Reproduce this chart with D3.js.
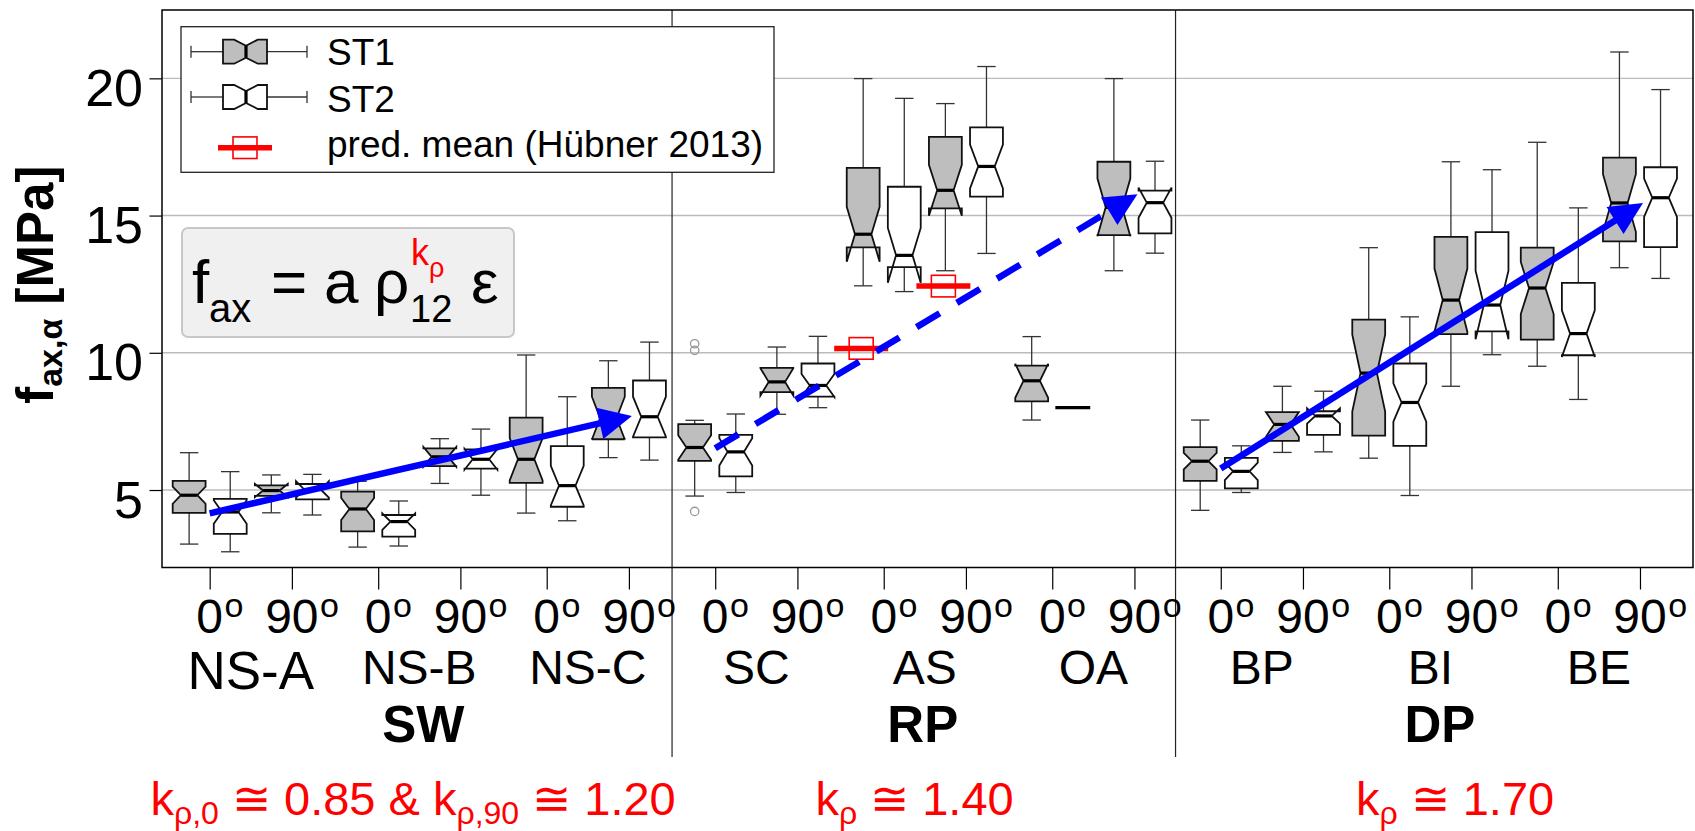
<!DOCTYPE html>
<html>
<head>
<meta charset="utf-8">
<script src="https://d3js.org/d3.v7.min.js"></script>
<style>
    body { margin: 0; background: #fff; }
    svg text { font-family: "Liberation Sans", Arial, Helvetica, sans-serif; fill: #000; }
    .grid line { stroke: #bbb; stroke-width: 1.4px; }
    .whisker { stroke: #333; stroke-width: 1.3px; }
    .box { stroke: #111; stroke-width: 1.8px; }
    .median { stroke: #000; stroke-width: 3.2px; }
    .divider { stroke: #222; stroke-width: 1.2px; }
    .axis path { display: none; }
    .axis line { stroke: #000; stroke-width: 1.2px; }
</style>
</head>
<body>
<svg width="1695" height="831"></svg>
<script>
// ---- data ----
var species = ["NS-A", "NS-B", "NS-C", "SC", "AS", "OA", "BP", "BI", "BE"];
var groups = ["SW", "RP", "DP"];
var angles = ["0", "90"];
var yTicks = [5, 10, 15, 20];

// one row per box, order NS-A 0º, NS-A 90º, NS-B 0º ... BE 90º
// [lower whisker, Q1, median, Q3, upper whisker]
var st1 = [
    [3.03, 4.17, 4.81, 5.33, 6.36],
    [4.17, 4.79, 4.98, 5.17, 5.55],
    [2.92, 3.49, 4.31, 4.94, 5.32],
    [5.24, 5.87, 6.21, 6.52, 6.87],
    [4.16, 5.26, 6.12, 7.64, 9.92],
    [6.18, 6.85, 7.62, 8.72, 9.71],
    [4.78, 6.06, 6.55, 7.40, 7.54],
    [7.76, 8.57, 8.94, 9.45, 10.21],
    [12.44, 13.84, 14.32, 16.74, 19.99],
    [12.99, 15.26, 15.92, 17.87, 19.08],
    [7.55, 8.23, 8.98, 9.53, 10.59],
    [12.99, 14.29, 15.30, 16.96, 19.99],
    [4.26, 5.33, 6.05, 6.56, 7.55],
    [6.37, 6.79, 7.39, 7.84, 8.78],
    [6.16, 6.98, 9.26, 11.21, 13.83],
    [8.78, 10.68, 11.92, 14.22, 16.96],
    [9.51, 10.48, 12.36, 13.83, 17.67],
    [13.10, 14.06, 15.46, 17.11, 20.96]
];
var st2 = [
    [2.75, 3.40, 4.20, 4.68, 5.67],
    [4.09, 4.66, 5.02, 5.22, 5.57],
    [2.96, 3.30, 3.85, 4.09, 4.60],
    [4.81, 5.78, 6.12, 6.48, 7.22],
    [3.88, 4.39, 5.16, 6.60, 8.40],
    [6.09, 6.92, 7.67, 8.99, 10.39],
    [4.91, 5.50, 6.39, 7.01, 7.77],
    [8.00, 8.40, 8.81, 9.61, 10.60],
    [12.23, 13.12, 13.55, 16.05, 19.27],
    [13.62, 15.69, 16.79, 18.21, 20.43],
    [8.00, 8.00, 8.00, 8.00, 8.00],
    [13.63, 14.35, 15.47, 15.91, 16.98],
    [4.91, 5.06, 5.68, 6.17, 6.61],
    [6.39, 7.01, 7.70, 7.87, 8.60],
    [4.80, 6.61, 8.19, 9.61, 11.31],
    [9.93, 10.78, 11.74, 14.40, 16.67],
    [8.30, 9.91, 10.70, 12.55, 15.28],
    [12.71, 13.85, 15.65, 16.76, 19.59]
];
// notch half heights (MPa)
var st1Notch = [0.31, 0.24, 0.40, 0.36, 0.77, 0.78, 0.45, 0.50, 1.00, 0.93, 0.62, 1.05, 0.30, 0.45, 1.40, 1.15, 0.95, 1.05];
var st2Notch = [0.43, 0.30, 0.30, 0.38, 0.72, 0.73, 0.50, 0.42, 1.00, 0.80, 0.00, 0.55, 0.32, 0.28, 0.70, 1.25, 0.85, 0.70];

// outliers: [series, box index, value]
var outliers = [["ST1", 6, 10.33], ["ST1", 6, 10.09], ["ST1", 6, 4.22]];

// predicted means (Hübner 2013), at AS 0º and AS 90º
var predBox = [8, 9];
var predMean = [10.16, 12.43];

// trend arrows per group: start value (first 0º tick), end value (last 90º tick)
var trendStart = [4.15, 6.52, 5.78];
var trendEnd = [7.70, 15.78, 15.46];
var trendDashed = [false, true, false];

// exponent labels below the groups
var kLabels = [
    [["k", 0], ["ρ,0", 1], [" ≅ 0.85 & k", 0], ["ρ,90", 1], [" ≅ 1.20", 0]],
    [["k", 0], ["ρ", 1], [" ≅ 1.40", 0]],
    [["k", 0], ["ρ", 1], [" ≅ 1.70", 0]]
];

// ---- layout ----
var svg = d3.select("svg");
var pL = 162, pR = 1693, pT = 10, pB = 567.5;

// slot units: 4 boxes per species, small gap between species
var x = d3.scaleLinear().domain([-0.66, 36.59]).range([pL, pR]);
var y = d3.scaleLinear().domain([2.177, 22.49]).range([pB, pT]);
var boxW = x(0.8) - x(0);

function boxPos(i, st) { return Math.floor(i / 2) * 4.1 + (i % 2) * 2 + st; }
function tickPos(i) { return boxPos(i, 0) + 0.5; }

var plot = svg.append("g");

// grid
plot.append("g").attr("class", "grid")
    .selectAll("line").data(yTicks).enter().append("line")
    .attr("x1", pL).attr("x2", pR)
    .attr("y1", function(d) { return y(d); })
    .attr("y2", function(d) { return y(d); });

// group dividers
[11.75, 24.0].forEach(function(u) {
    plot.append("line").attr("class", "divider")
        .attr("x1", x(u)).attr("x2", x(u)).attr("y1", pT).attr("y2", 757);
});

// notched box polygon, same folding as R's bxp
function notchPoints(cx, d, n) {
    var xl = cx - boxW / 2, xr = cx + boxW / 2, il = cx - boxW / 4, ir = cx + boxW / 4;
    return [[xl, y(d[1])], [xl, y(d[2] - n)], [il, y(d[2])], [xl, y(d[2] + n)], [xl, y(d[3])],
            [xr, y(d[3])], [xr, y(d[2] + n)], [ir, y(d[2])], [xr, y(d[2] - n)], [xr, y(d[1])]];
}

var series = [
    {name: "ST1", stats: st1, notch: st1Notch, fill: "#bebebe", off: 0},
    {name: "ST2", stats: st2, notch: st2Notch, fill: "#ffffff", off: 1}
];

series.forEach(function(s) {
    s.stats.forEach(function(d, i) {
        var cx = x(boxPos(i, s.off));
        var g = plot.append("g");
        if (d[1] === d[3]) {
            g.append("line").attr("class", "median")
                .attr("x1", cx - boxW / 2 - 1).attr("x2", cx + boxW / 2 + 1)
                .attr("y1", y(d[2])).attr("y2", y(d[2]));
            return;
        }
        // whiskers + staples
        [[d[3], d[4]], [d[1], d[0]]].forEach(function(w) {
            g.append("line").attr("class", "whisker")
                .attr("x1", cx).attr("x2", cx).attr("y1", y(w[0])).attr("y2", y(w[1]));
            g.append("line").attr("class", "whisker")
                .attr("x1", cx - boxW / 4 - 1).attr("x2", cx + boxW / 4 + 1)
                .attr("y1", y(w[1])).attr("y2", y(w[1]));
        });
        g.append("path").attr("class", "box")
            .attr("d", d3.line()(notchPoints(cx, d, s.notch[i])) + "Z")
            .attr("fill", s.fill);
        g.append("line").attr("class", "median")
            .attr("x1", cx - boxW / 4).attr("x2", cx + boxW / 4)
            .attr("y1", y(d[2])).attr("y2", y(d[2]));
    });
});

// outliers
plot.selectAll(".outlier").data(outliers).enter().append("circle")
    .attr("class", "outlier")
    .attr("cx", function(d) { return x(boxPos(d[1], d[0] === "ST1" ? 0 : 1)); })
    .attr("cy", function(d) { return y(d[2]); })
    .attr("r", 4.2)
    .attr("fill", "none").attr("stroke", "#999").attr("stroke-width", 1.3);

// predicted means
function predMark(g, cx, cy) {
    g.append("line").attr("x1", cx - 27).attr("x2", cx + 27).attr("y1", cy).attr("y2", cy)
        .attr("stroke", "#ff0000").attr("stroke-width", 5.5);
    g.append("rect").attr("x", cx - 12).attr("y", cy - 10.8).attr("width", 24).attr("height", 21.6)
        .attr("fill", "none").attr("stroke", "#ff0000").attr("stroke-width", 1.6);
}
predMean.forEach(function(v, k) {
    predMark(plot, x(boxPos(predBox[k], 0)) - 2, y(v));
});

// trend arrows
function arrow(x0, y0, x1, y1, dashed) {
    var dx = x1 - x0, dy = y1 - y0, L = Math.hypot(dx, dy), ux = dx / L, uy = dy / L;
    var hl = 33, hw = 16;
    var bx = x1 - ux * hl, by = y1 - uy * hl;
    plot.append("line")
        .attr("x1", x0).attr("y1", y0).attr("x2", bx + ux * 3).attr("y2", by + uy * 3)
        .attr("stroke", "#0000ff").attr("stroke-width", 6.5)
        .attr("stroke-dasharray", dashed ? "27,20" : null);
    plot.append("path")
        .attr("d", d3.line()([[x1, y1], [bx - uy * hw, by + ux * hw], [bx + uy * hw, by - ux * hw]]) + "Z")
        .attr("fill", "#0000ff");
}
groups.forEach(function(gname, k) {
    arrow(x(tickPos(k * 6)), y(trendStart[k]), x(tickPos(k * 6 + 5)) + 3, y(trendEnd[k]), trendDashed[k]);
});

// legend
var leg = svg.append("g");
leg.append("rect").attr("x", 181).attr("y", 26.7).attr("width", 593).attr("height", 145.6)
    .attr("fill", "#fff").attr("stroke", "#222").attr("stroke-width", 1.3);

function legendBox(cy, fill) {
    leg.append("line").attr("class", "whisker").attr("x1", 191).attr("x2", 223).attr("y1", cy).attr("y2", cy);
    leg.append("line").attr("class", "whisker").attr("x1", 267).attr("x2", 307).attr("y1", cy).attr("y2", cy);
    [191, 307].forEach(function(px) {
        leg.append("line").attr("class", "whisker").attr("x1", px).attr("x2", px).attr("y1", cy - 6).attr("y2", cy + 6);
    });
    var pts = [[223, cy - 12], [234.2, cy - 12], [246, cy - 6], [257.8, cy - 12], [267, cy - 12],
               [267, cy + 12], [257.8, cy + 12], [246, cy + 6], [234.2, cy + 12], [223, cy + 12]];
    leg.append("path").attr("class", "box").attr("d", d3.line()(pts) + "Z").attr("fill", fill);
    leg.append("line").attr("class", "median").attr("x1", 246).attr("x2", 246).attr("y1", cy - 6).attr("y2", cy + 6);
}
legendBox(51.7, series[0].fill);
legendBox(97, series[1].fill);
predMark(leg, 245, 147.7);

var legText = [["ST1", 65], ["ST2", 111.7], ["pred. mean (Hübner 2013)", 157]];
legText.forEach(function(t) {
    leg.append("text").attr("x", 327).attr("y", t[1]).attr("font-size", 37).text(t[0]);
});

// formula box
var fb = svg.append("g");
fb.append("rect").attr("x", 182).attr("y", 228).attr("width", 332).attr("height", 109).attr("rx", 6)
    .attr("fill", "#f0f0f0").attr("stroke", "#c8c8c8").attr("stroke-width", 2);
var fParts = [
    ["f", 192, 303, 62, "#000"], ["ax", 209, 322, 40, "#000"], ["=", 271, 303, 62, "#000"],
    ["a", 324, 303, 62, "#000"], ["ρ", 374, 303, 62, "#000"], ["k", 411, 265, 36, "#ff0000"],
    ["ρ", 429, 277, 27, "#ff0000"], ["12", 410, 322, 38, "#000"], ["ε", 471, 303, 62, "#000"]
];
fParts.forEach(function(p) {
    fb.append("text").attr("x", p[1]).attr("y", p[2]).attr("font-size", p[3])
        .style("fill", p[4]).text(p[0]);
});

// plot border
svg.append("rect").attr("x", pL).attr("y", pT).attr("width", pR - pL).attr("height", pB - pT)
    .attr("fill", "none").attr("stroke", "#000").attr("stroke-width", 1.5);

// y axis
var yAxis = svg.append("g").attr("class", "axis").attr("transform", "translate(" + pL + ",0)")
    .call(d3.axisLeft(y).tickValues(yTicks).tickSize(12.5).tickPadding(6.5).tickFormat(d3.format("d")));
yAxis.selectAll("text").attr("font-size", 52).attr("dy", "0.52em").attr("font-family", null);

// x axis ticks
var tickUnits = d3.range(18).map(tickPos);
svg.append("g").attr("class", "axis").attr("transform", "translate(0," + pB + ")")
    .call(d3.axisBottom(x).tickValues(tickUnits).tickSize(22).tickFormat(""));

// angle labels with superscript o
tickUnits.forEach(function(u, i) {
    var t = svg.append("text").attr("x", x(u)).attr("y", 633.3).attr("text-anchor", "middle")
        .attr("font-size", 48).text(angles[i % 2]);
    var bb = t.node().getBBox();
    svg.append("text").attr("x", bb.x + bb.width + 1.5).attr("y", 616.5).attr("font-size", 34).text("o");
});

// species labels
species.forEach(function(sp, s) {
    var mid = x((tickPos(s * 2) + tickPos(s * 2 + 1)) / 2);
    var big = s === 0;
    svg.append("text").attr("x", mid).attr("y", big ? 689 : 684).attr("text-anchor", "middle")
        .attr("font-size", big ? 53 : 48).text(sp);
});

// group labels
var groupAt = [5.7, 17.85, 30.43];
groups.forEach(function(gname, k) {
    svg.append("text").attr("x", x(groupAt[k])).attr("y", 741.7).attr("text-anchor", "middle")
        .attr("font-size", 51).attr("font-weight", "bold").text(gname);
});

// exponent labels in red
var kAt = [5.45, 17.65, 30.8];
kLabels.forEach(function(parts, k) {
    var t = svg.append("text").attr("x", x(kAt[k])).attr("y", 815).attr("text-anchor", "middle")
        .attr("font-size", 47).style("fill", "#ff0000");
    var prev = 0;
    parts.forEach(function(p) {
        var shift = (p[1] - prev) * 9;
        prev = p[1];
        t.append("tspan").attr("dy", shift).attr("font-size", p[1] ? 32 : 47)
            .style("fill", "#ff0000").text(p[0]);
    });
});

// y title
var yt = svg.append("text").attr("transform", "translate(53,284.7) rotate(-90)")
    .attr("text-anchor", "middle").attr("font-size", 51).attr("font-weight", "bold");
yt.append("tspan").text("f");
yt.append("tspan").attr("font-size", 34).attr("dy", 9).text("ax,α");
yt.append("tspan").attr("dy", -9).text(" [MPa]");
</script>
</body>
</html>
